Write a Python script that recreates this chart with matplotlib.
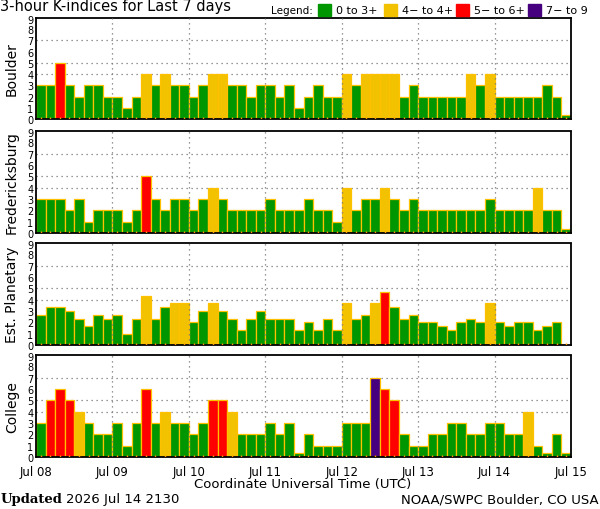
import numpy as np
import matplotlib
matplotlib.use("Agg")
import matplotlib.pyplot as plt
from matplotlib.patches import Rectangle

# 3-hour K-index values, 8 per day, Jul 08 .. Jul 14
stations = ["Boulder", "Fredericksburg", "Est. Planetary", "College"]

boulder = [3, 3, 5, 3, 2, 3, 3, 2,
           2, 1, 2, 4, 3, 4, 3, 3,
           2, 3, 4, 4, 3, 3, 2, 3,
           3, 2, 3, 1, 2, 3, 2, 2,
           4, 3, 4, 4, 4, 4, 2, 3,
           2, 2, 2, 2, 2, 4, 3, 4,
           2, 2, 2, 2, 2, 3, 2, 0]

fredericksburg = [3, 3, 3, 2, 3, 1, 2, 2,
                  2, 1, 2, 5, 3, 2, 3, 3,
                  2, 3, 4, 3, 2, 2, 2, 2,
                  3, 2, 2, 2, 3, 2, 2, 1,
                  4, 2, 3, 3, 4, 3, 2, 3,
                  2, 2, 2, 2, 2, 2, 2, 3,
                  2, 2, 2, 2, 4, 2, 2, 0]

planetary = [2.67, 3.33, 3.33, 3.0, 2.33, 1.67, 2.67, 2.33,
             2.67, 1.0, 2.33, 4.33, 2.33, 3.33, 3.67, 3.67,
             2.0, 3.0, 3.67, 3.0, 2.33, 1.33, 2.33, 3.0,
             2.33, 2.33, 2.33, 1.33, 2.0, 1.33, 2.33, 1.33,
             3.67, 2.33, 2.67, 3.67, 4.67, 3.33, 2.33, 2.67,
             2.0, 2.0, 1.67, 1.33, 2.0, 2.33, 2.0, 3.67,
             2.0, 1.67, 2.0, 2.0, 1.33, 1.67, 2.0, np.nan]

college = [3, 5, 6, 5, 4, 3, 2, 2,
           3, 1, 3, 6, 3, 4, 3, 3,
           2, 3, 5, 5, 4, 2, 2, 2,
           3, 2, 3, 0, 2, 1, 1, 1,
           3, 3, 3, 7, 6, 5, 2, 1,
           1, 2, 2, 3, 3, 2, 2, 3,
           3, 2, 2, 4, 1, 0, 2, 0]

day_labels = ["Jul 08", "Jul 09", "Jul 10", "Jul 11", "Jul 12", "Jul 13", "Jul 14", "Jul 15"]

legend_labels = ["0 to 3+", "4\u2212 to 4+", "5\u2212 to 6+", "7\u2212 to 9"]
legend_colors = ["#009600", "#F2C200", "#FF0000", "#46007F"]
EDGE = "#FFC000"


def kcolor(v):
    if v < 3.5:
        return legend_colors[0]
    if v < 4.5:
        return legend_colors[1]
    if v < 6.5:
        return legend_colors[2]
    return legend_colors[3]


plt.rcParams["font.family"] = "DejaVu Sans"
fig = plt.figure(figsize=(6.0, 5.1), dpi=100)

W, H = 600.0, 510.0
panel_px = [(19, 120), (132, 234), (244, 346), (356, 458)]
left_px, right_px = 36, 571

for name, vals, (top, bot) in zip(stations, [boulder, fredericksburg, planetary, college], panel_px):
    ax = fig.add_axes([left_px / W, 1 - bot / H, (right_px - left_px) / W, (bot - top) / H])
    vals = np.asarray(vals, dtype=float)
    x = np.arange(len(vals))
    shown = np.where(vals == 0, 0.35, vals)   # zero K drawn as a thin sliver
    for xi, v, s in zip(x, vals, shown):
        if np.isnan(v):
            continue
        ax.bar(xi, s, width=1.0, align="edge", color=kcolor(v), edgecolor=EDGE,
               linewidth=0.9, zorder=2)
    ax.vlines(x + 0.5, 0, 0.15, color="#FF9900", lw=1.0, zorder=3)
    for yy in (4, 5, 7):
        ax.axhline(yy, color="#777777", ls=(0, (1, 3)), lw=0.9, zorder=1)
    for d in range(1, 7):
        ax.axvline(d * 8, color="#777777", ls=(0, (1, 3)), lw=0.9, zorder=4)
    ax.set_xlim(0, 56)
    ax.set_ylim(0, 9)
    ax.set_yticks(list(range(9)) + [8.95])
    ax.set_yticklabels([str(i) for i in range(10)], fontsize=7)
    ax.tick_params(axis="y", length=0, pad=2)
    ax.set_xticks(np.arange(0, 57, 8))
    ax.tick_params(axis="x", length=0)
    if name == "College":
        ax.set_xticklabels(day_labels, fontsize=8.5)
        ax.tick_params(axis="x", pad=6)
    else:
        ax.set_xticklabels([])
    for sp in ax.spines.values():
        sp.set_linewidth(1.3)
        sp.set_color("black")
    ax.spines["right"].set_linestyle((0, (2, 1)))
    fig.text(12 / W, 1 - ((top + bot) / 2) / H, name, rotation=90,
             ha="center", va="center", fontsize=10)

fig.text(0 / W, 1 - 11.5 / H, "3-hour K-indices for Last 7 days", ha="left", va="baseline",
         fontsize=10.5)
fig.text(271 / W, 1 - 11 / H, "Legend:", ha="left", va="center", fontsize=7.5)
leg_x = [318, 384, 456, 528]
for lx, lab, col in zip(leg_x, legend_labels, legend_colors):
    fig.patches.append(Rectangle((lx / W, 1 - 17 / H), 13 / W, 12 / H,
                                 transform=fig.transFigure, color=col))
    fig.text((lx + 18) / W, 1 - 11 / H, lab, ha="left", va="center", fontsize=8)

fig.text(303 / W, 1 - 485 / H, "Coordinate Universal Time (UTC)", ha="center",
         va="center", fontsize=9.5)
fig.text(1 / W, 1 - 500 / H, "Updated", ha="left", va="center", fontsize=9.5,
         family="DejaVu Serif", weight="bold")
fig.text(66 / W, 1 - 500 / H, "2026 Jul 14 2130", ha="left", va="center", fontsize=9.5)
fig.text(599 / W, 1 - 500 / H, "NOAA/SWPC Boulder, CO USA", ha="right", va="center",
         fontsize=9.5)

fig.savefig("out.png", dpi=100)
